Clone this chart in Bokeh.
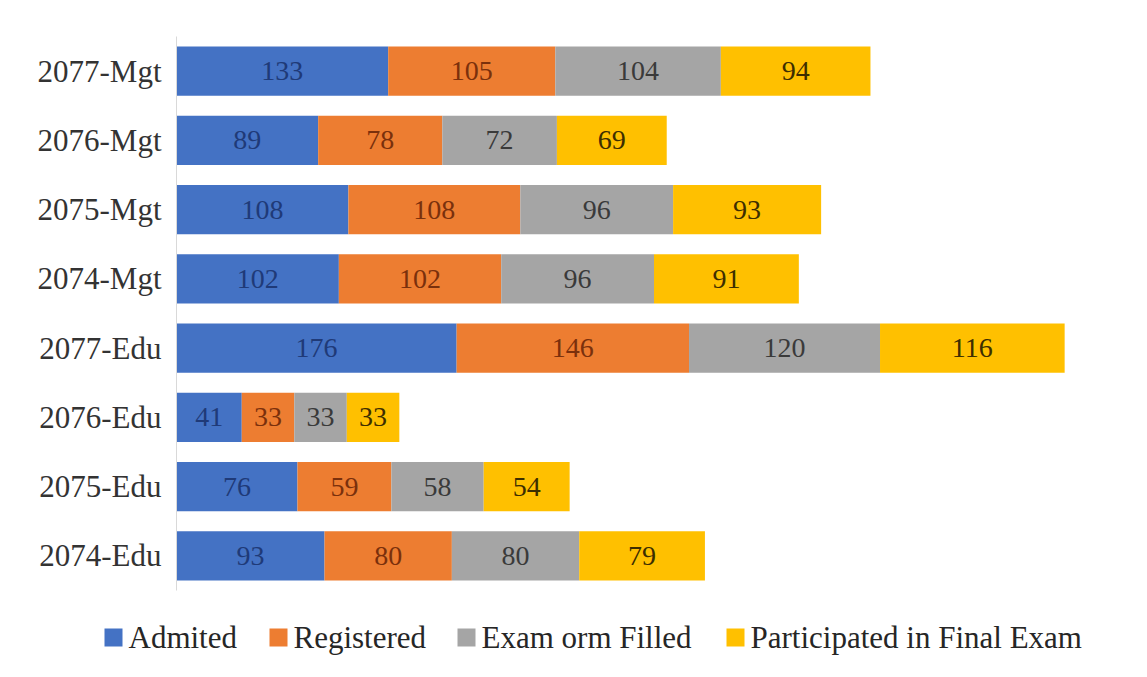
from bokeh.plotting import figure
from bokeh.models import ColumnDataSource, FactorRange, Range1d, LabelSet
from bokeh.core.properties import value
from bokeh.embed import file_html
from bokeh.resources import INLINE

categories = ["2077-Mgt", "2076-Mgt", "2075-Mgt", "2074-Mgt",
              "2077-Edu", "2076-Edu", "2075-Edu", "2074-Edu"]
series = ["Admited", "Registered", "Exam orm Filled", "Participated in Final Exam"]
admited = [133, 89, 108, 102, 176, 41, 76, 93]
registered = [105, 78, 108, 102, 146, 33, 59, 80]
exam_form = [104, 72, 96, 96, 120, 33, 58, 80]
participated = [94, 69, 93, 91, 116, 33, 54, 79]

colors = ["#4472C4", "#ED7D31", "#A5A5A5", "#FFC000"]
label_colors = ["#1F3A78", "#7A300C", "#3A3A3A", "#3D2E00"]
FONT = "Liberation Serif"
GLYPH_FONT = "serif"

p = figure(width=1131, height=600, output_backend="svg", toolbar_location=None,
           y_range=FactorRange(factors=list(reversed(categories)), range_padding=0),
           x_range=Range1d(0, 600))
p.min_border_left = 176
p.min_border_right = 0
p.min_border_top = 36
p.min_border_bottom = 10
p.outline_line_color = None
p.background_fill_color = "white"
p.border_fill_color = "white"
p.xgrid.visible = False
p.ygrid.visible = False
p.xaxis.visible = False

yax = p.yaxis[0]
yax.major_tick_line_color = None
yax.minor_tick_line_color = None
yax.major_tick_out = 0
yax.major_tick_in = 0
yax.axis_line_color = "#D9D9D9"
yax.major_label_text_font = FONT
yax.major_label_text_font_size = "31px"
yax.major_label_text_color = "#333333"
yax.major_label_standoff = 15

values = [admited, registered, exam_form, participated]
left = [0] * len(categories)
for vals, col, lcol in zip(values, colors, label_colors):
    right = [l + v for l, v in zip(left, vals)]
    mid = [(l + r) / 2 for l, r in zip(left, right)]
    src = ColumnDataSource(dict(cat=categories, left=left, right=right, mid=mid,
                                txt=[str(v) for v in vals]))
    p.hbar(y="cat", left="left", right="right", height=0.71, source=src,
           fill_color=col, line_color=None)
    lbl = LabelSet(x="mid", y="cat", text="txt", source=src, text_align="center",
                   text_baseline="middle", text_font=value(GLYPH_FONT), text_font_size="28px",
                   text_color=lcol)
    p.add_layout(lbl)
    left = right

# legend strip below the chart (pixel-based layout strip)
LG_W, LG_H = 1131, 61
lg = figure(width=LG_W, height=LG_H, output_backend="svg", toolbar_location=None,
            x_range=Range1d(0, LG_W), y_range=Range1d(0, LG_H))
lg.min_border = 0
lg.min_border_left = 0
lg.min_border_right = 0
lg.min_border_top = 0
lg.min_border_bottom = 0
lg.outline_line_color = None
lg.axis.visible = False
lg.grid.visible = False
lg.border_fill_color = "white"
lg.background_fill_color = "white"

swatch_left = [104, 269, 457, 726]   # layout positions of legend entries (px)
row_y = 24
sw = 18
leg_src = ColumnDataSource(dict(
    x=[s + sw / 2 for s in swatch_left],
    tx=[s + sw + 6 for s in swatch_left],
    y=[row_y] * len(series),
    color=colors,
    label=series,
))
lg.rect(x="x", y="y", width=sw, height=sw, fill_color="color", line_color=None, source=leg_src)
lg.text(x="tx", y="y", text="label", source=leg_src, text_font=value(GLYPH_FONT),
        text_font_size="31px", text_color="#262626", text_baseline="middle",
        text_align="left")

open("out.html", "w").write(file_html([p, lg], INLINE))
